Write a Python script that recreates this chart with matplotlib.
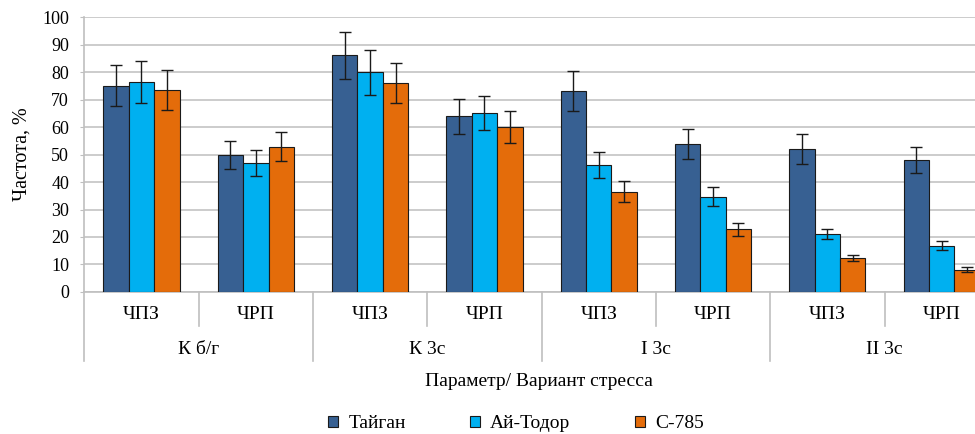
import numpy as np
import matplotlib
matplotlib.use("Agg")
import matplotlib.pyplot as plt
from matplotlib.lines import Line2D
from matplotlib.patches import Patch

plt.rcParams["font.family"] = ["Liberation Serif", "DejaVu Serif"]

# ── данные ────────────────────────────────────────────────────────────────
groups  = ["К б/г", "К 3с", "I 3с", "II 3с"]
params  = ["ЧПЗ", "ЧРП"]
series  = ["Тайган", "Ай-Тодор", "С-785"]
colors  = ["#376092", "#00B0F0", "#E46C0A"]

taigan     = [75.0, 49.8, 86.1, 63.9, 73.1, 53.7, 52.0, 47.9]
ai_todor   = [76.4, 47.0, 79.9, 65.1, 46.2, 34.7, 21.0, 16.8]
c785       = [73.5, 52.8, 76.0, 60.0, 36.5, 22.8, 12.2, 8.1]
taigan_err = [7.5, 5.1, 8.6, 6.3, 7.3, 5.5, 5.5, 4.8]
ai_err     = [7.7, 4.7, 8.1, 6.3, 4.6, 3.5, 1.9, 1.7]
c785_err   = [7.3, 5.3, 7.4, 5.9, 3.8, 2.3, 1.1, 0.9]

values = [taigan, ai_todor, c785]
errors = [taigan_err, ai_err, c785_err]

# ── график ────────────────────────────────────────────────────────────────
fig = plt.figure(figsize=(9.75, 4.34), dpi=100)
ax = fig.add_axes([0.0865, 0.3272, 0.938, 0.6336])

n = len(taigan)
x = np.arange(n) + 0.5
w = 0.222
for i, (vals, errs) in enumerate(zip(values, errors)):
    ax.bar(x + (i - 1) * w, vals, w, color=colors[i], edgecolor="#1a1a1a",
           linewidth=0.8, label=series[i], zorder=3,
           yerr=errs, capsize=4,
           error_kw=dict(ecolor="#1a1a1a", elinewidth=1.0, capthick=1.0, zorder=4))

ax.set_xlim(0, n)
ax.set_ylim(0, 100)
ax.set_yticks(range(0, 101, 10))
ax.tick_params(axis="y", labelsize=13, length=3, color="#bfbfbf", pad=8)
ax.set_xticks([])
ax.grid(axis="y", color="#c8c8c8", linewidth=1.3, zorder=0)
for s in ["top", "right"]:
    ax.spines[s].set_visible(False)
ax.spines["left"].set_color("#bfbfbf")
ax.spines["bottom"].set_color("#bfbfbf")
ax.spines["left"].set_linewidth(1.2)
ax.spines["bottom"].set_linewidth(1.2)
ax.set_ylabel("Частота, %", fontsize=14.5)
ax.yaxis.set_label_coords(-0.058, 0.5)

# двухуровневые подписи оси X
tr = ax.get_xaxis_transform()
axh = ax.get_position().height * 434  # высота осей в пикселях

def py(px):
    return -px / axh

for k in range(n):
    ax.text(x[k], py(23), params[k % 2], transform=tr, ha="center", va="center",
            fontsize=14)
    if k % 2 == 1:
        ax.add_line(Line2D([k, k], [0, py(34)], transform=tr, color="#bfbfbf",
                           linewidth=1.2, clip_on=False))
for g in range(len(groups)):
    ax.text(2 * g + 1, py(58), groups[g], transform=tr, ha="center", va="center",
            fontsize=14)
    ax.add_line(Line2D([2 * g, 2 * g], [0, py(69)], transform=tr, color="#bfbfbf",
                       linewidth=1.2, clip_on=False))

fig.text(0.553, 1 - 381 / 434, "Параметр/ Вариант стресса", ha="center",
         va="center", fontsize=14)

handles = [Patch(facecolor=c, edgecolor="#1a1a1a", linewidth=0.8) for c in colors]
fig.legend(handles, series, loc="center", bbox_to_anchor=(0.529, 1 - 424 / 434),
           ncol=3, frameon=False, fontsize=14, handlelength=0.55, handleheight=0.55,
           handletextpad=0.5, columnspacing=3.3)

fig.savefig("out.png", dpi=100)
